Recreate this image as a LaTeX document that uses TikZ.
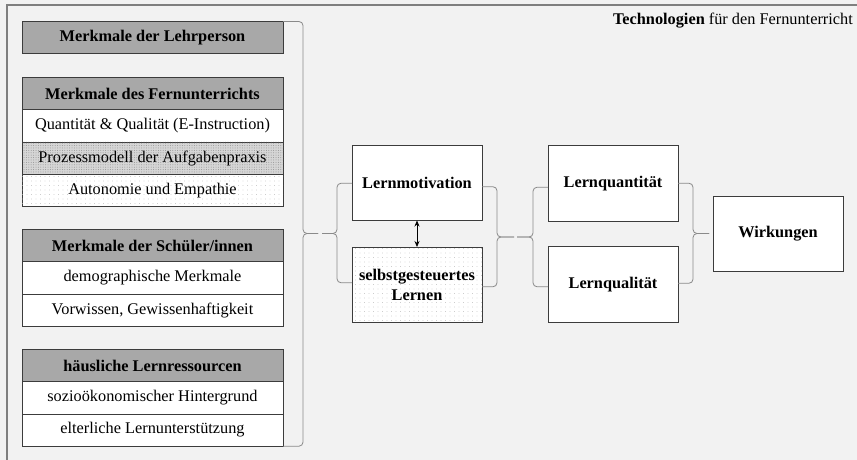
\documentclass[tikz,border=0pt]{standalone}
\usepackage{fontspec}
\setmainfont{Liberation Serif}
\usetikzlibrary{patterns.meta,calc,arrows.meta}
\definecolor{bg}{HTML}{F2F2F2}
\definecolor{boxline}{HTML}{3C3C3C}
\definecolor{headfill}{HTML}{A8A8A8}
\definecolor{bracecol}{HTML}{8A8A8A}
\definecolor{framecol}{HTML}{7F7F7F}
\definecolor{dotfill}{HTML}{D6D6D6}
\tikzset{
  lbox/.style={draw=boxline, line width=0.8pt, fill=white, minimum width=261pt, minimum height=32.3pt, inner sep=0pt, outer sep=0pt, anchor=north west},
  lhead/.style={lbox, fill=headfill, font=\fontsize{16.3}{18}\selectfont\bfseries},
  dense/.style={fill=dotfill, postaction={pattern={Dots[distance=2.4pt, radius=0.5pt]}, pattern color=gray!85}},
  sparse/.style={fill=white, postaction={pattern={Dots[distance=4.5pt, radius=0.45pt]}, pattern color=gray!60}},
  mbox/.style={draw=boxline, line width=0.8pt, fill=white, minimum width=130pt, minimum height=75.5pt, inner sep=0pt, outer sep=0pt, anchor=north west, font=\fontsize{16.3}{20}\selectfont\bfseries, align=center},
  bracepath/.style={draw=bracecol, line width=0.8pt, rounded corners=4pt},
}
\begin{document}
\begin{tikzpicture}[x=1pt, y=-1pt, font=\fontsize{16.3}{18}\selectfont]
\fill[bg] (0,0) rectangle (857,460);
\useasboundingbox (0,0) rectangle (857,460);
\draw[framecol, line width=1.4pt] (857,5) -- (7,5) -- (7,460);
\node[anchor=base east, inner sep=0pt] (title) at (853,25) {\textbf{Technologien} für den Fernunterricht};

% left column
\node[lhead] (lehr) at (22,21.5) {Merkmale der Lehrperson};

\node[lhead] (fern) at (22,77.3) {Merkmale des Fernunterrichts};
\node[lbox] (fern1) at (22,109.6) {Quantität \& Qualität (E-Instruction)};
\node[lbox, dense] (fern2) at (22,141.9) {Prozessmodell der Aufgabenpraxis};
\node[lbox, sparse] (fern3) at (22,174.2) {Autonomie und Empathie};

\node[lhead] (sch) at (22,229.3) {Merkmale der Schüler/innen};
\node[lbox] (sch1) at (22,261.6) {demographische Merkmale};
\node[lbox] (sch2) at (22,293.9) {Vorwissen, Gewissenhaftigkeit};

\node[lhead] (haus) at (22,349.3) {häusliche Lernressourcen};
\node[lbox] (haus1) at (22,381.6) {sozioökonomischer Hintergrund};
\node[lbox] (haus2) at (22,413.9) {elterliche Lernunterstützung};

% middle boxes
\node[mbox] (mot) at (352,145) {Lernmotivation};
\node[mbox, sparse] (selbst) at (352,247) {selbstgesteuertes\\Lernen};
\node[mbox] (quant) at (548,145.5) {Lernquantität};
\node[mbox] (qual) at (548,246.5) {Lernqualität};
\node[mbox] (wirk) at (713,196) {Wirkungen};

\draw[black, line width=0.8pt, {Stealth[length=6pt,width=5pt]}-{Stealth[length=6pt,width=5pt]}] (mot.south) -- (selbst.north);

% braces
\coordinate (b1tip) at (318,233.5);
\coordinate (b2tip) at (322,233.5);
\draw[bracepath] (lehr.north east) -- ++(20,0) |- (b1tip);
\draw[bracepath] (haus2.south east) -- ++(20,0) |- (b1tip);
\draw[bracepath] ($(mot.west)+(0,0.5)$) -- ++(-15,0) |- (b2tip);
\draw[bracepath] ($(selbst.west)+(0,-2)$) -- ++(-15,0) |- (b2tip);

\coordinate (b3tip) at (514,237);
\coordinate (b4tip) at (517,237);
\draw[bracepath] ($(mot.east)+(0,4)$) -- ++(15,0) |- (b3tip);
\draw[bracepath] ($(selbst.east)+(0,2)$) -- ++(15,0) |- (b3tip);
\draw[bracepath] ($(quant.west)+(0,4)$) -- ++(-15,0) |- (b4tip);
\draw[bracepath] ($(qual.west)+(0,2.5)$) -- ++(-15,0) |- (b4tip);

\coordinate (b5tip) at (709,233.5);
\draw[bracepath] ($(quant.east)+(0,0)$) -- ++(15,0) |- (b5tip);
\draw[bracepath] ($(qual.east)+(0,-1)$) -- ++(15,0) |- (b5tip);
\end{tikzpicture}
\end{document}
